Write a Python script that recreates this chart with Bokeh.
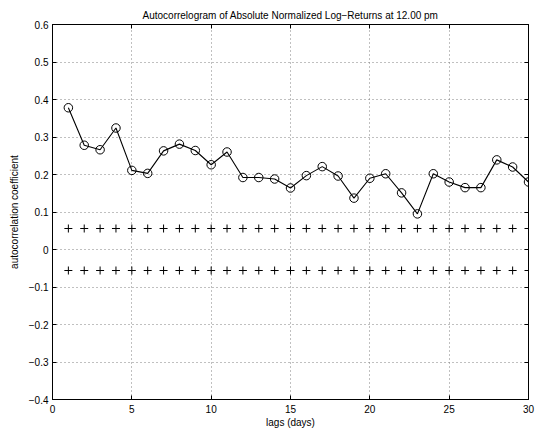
from bokeh.plotting import figure
from bokeh.models import Range1d, LinearAxis, FixedTicker
from bokeh.embed import file_html
from bokeh.resources import INLINE

lags = list(range(1, 31))
acf = [0.378, 0.278, 0.266, 0.324, 0.211, 0.203, 0.263, 0.281, 0.264, 0.226,
       0.260, 0.192, 0.192, 0.188, 0.164, 0.197, 0.221, 0.196, 0.137, 0.190,
       0.202, 0.151, 0.095, 0.202, 0.180, 0.165, 0.165, 0.239, 0.220, 0.180]
conf_upper = [0.056] * 30
conf_lower = [-0.056] * 30
x_ticks = [0, 5, 10, 15, 20, 25, 30]
y_ticks = [-0.4, -0.3, -0.2, -0.1, 0.0, 0.1, 0.2, 0.3, 0.4, 0.5, 0.6]
y_tick_labels = ["\u22120.4", "\u22120.3", "\u22120.2", "\u22120.1", "0", "0.1",
                 "0.2", "0.3", "0.4", "0.5", "0.6"]

FONT = "Liberation Sans"

p = figure(width=541, height=432, output_backend="svg", toolbar_location=None,
           x_range=Range1d(0, 30), y_range=Range1d(-0.4, 0.6),
           min_border_left=52, min_border_right=13, min_border_top=24,
           min_border_bottom=33,
           title="Autocorrelogram of Absolute Normalized Log\u2212Returns at 12.00 pm")
p.background_fill_color = "white"
p.border_fill_color = "white"
p.outline_line_color = "black"
p.outline_line_width = 1

p.title.align = "center"
p.title.text_font = FONT
p.title.text_font_size = "10px"
p.title.text_font_style = "normal"
p.title.text_color = "black"
p.title.offset = 0
p.title.standoff = 8

for ax in (p.xaxis[0], p.yaxis[0]):
    ax.major_tick_in = 4
    ax.major_tick_out = 0
    ax.minor_tick_line_color = None
    ax.major_label_text_font = FONT
    ax.major_label_text_font_size = "10px"
    ax.major_label_text_color = "black"
    ax.axis_label_text_font = FONT
    ax.axis_label_text_font_size = "10px"
    ax.axis_label_text_font_style = "normal"
    ax.axis_label_text_color = "black"
    ax.axis_line_color = "black"
    ax.major_tick_line_color = "black"

p.xaxis[0].ticker = FixedTicker(ticks=x_ticks)
p.yaxis[0].ticker = FixedTicker(ticks=y_ticks)
p.yaxis[0].major_label_overrides = {t: l for t, l in zip(y_ticks, y_tick_labels)}
p.xaxis[0].axis_label = "lags (days)"
p.yaxis[0].axis_label = "autocorrelation coefficient"
p.xaxis[0].major_label_standoff = 5
p.xaxis[0].axis_label_standoff = 1
p.yaxis[0].major_label_standoff = 4
p.yaxis[0].axis_label_standoff = 6

top = LinearAxis(ticker=FixedTicker(ticks=x_ticks), major_tick_in=4, major_tick_out=0,
                 minor_tick_line_color=None, major_label_text_font_size="10px",
                 major_label_overrides={t: "" for t in x_ticks},
                 major_label_standoff=0, axis_line_color="black")
right = LinearAxis(ticker=FixedTicker(ticks=y_ticks), major_tick_in=4, major_tick_out=0,
                   minor_tick_line_color=None, major_label_text_font_size="10px",
                   major_label_overrides={t: "" for t in y_ticks},
                   major_label_standoff=0, axis_line_color="black")
p.add_layout(top, "above")
p.add_layout(right, "right")

p.xgrid.ticker = FixedTicker(ticks=x_ticks)
p.ygrid.ticker = FixedTicker(ticks=y_ticks)
for g in (p.xgrid[0], p.ygrid[0]):
    g.grid_line_color = "#808080"
    g.grid_line_dash = "1 3"
    g.grid_line_width = 1

p.line(lags, acf, line_color="black", line_width=1.1)
p.scatter(lags, acf, marker="circle", size=8.5, fill_color=None, line_color="black", line_width=1)
p.scatter(lags, conf_upper, marker="cross", size=8, line_color="black", line_width=1)
p.scatter(lags, conf_lower, marker="cross", size=8, line_color="black", line_width=1)

open("out.html", "w").write(file_html(p, INLINE))
